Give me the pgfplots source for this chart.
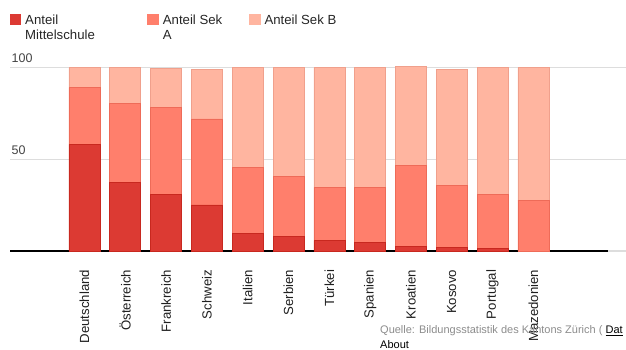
\documentclass[border=0pt]{standalone}
\usepackage{pgfplots}
\pgfplotsset{compat=1.18}
\usepackage{pgfplotstable}
\usepackage{fontspec}
\setmainfont{Liberation Sans}
\definecolor{cM}{HTML}{DC3A33}
\definecolor{cMb}{HTML}{C8281F}
\definecolor{cA}{HTML}{FF7F6C}
\definecolor{cAb}{HTML}{EE6B58}
\definecolor{cB}{HTML}{FFB5A0}
\definecolor{cBb}{HTML}{F0A08C}
\definecolor{gridc}{HTML}{DDDDDD}
\definecolor{labc}{HTML}{444444}
\pgfplotstableread{
x m a b
0 58.3 30.8 10.9
1 37.4 43.2 19.4
2 30.8 47.4 21.3
3 25.2 46.9 27.2
4 9.8 35.7 54.5
5 7.9 32.7 59.4
6 5.7 29.1 65.2
7 4.6 30.2 65.2
8 2.5 44.1 54.2
9 1.9 33.8 63.6
10 1.4 29.4 69.2
11 0 27.9 72.1
}\data
\begin{document}
\begin{tikzpicture}
\path[use as bounding box] (0,0) rectangle (626bp,350bp);
\begin{axis}[
  at={(10bp,98.8bp)}, anchor=south west, scale only axis,
  width=616bp, height=183.4bp,
  xmin=-1.825, xmax=13.27, ymin=0, ymax=100,
  clip=false,
  ybar stacked, bar width=31bp,
  axis line style={draw=none}, tick style={draw=none},
  ytick={50,100}, ymajorgrids, grid style={draw=gridc, line width=1bp},
  yticklabel style={anchor=south west, inner sep=0pt, xshift=1.5bp, yshift=4.5bp, text=labc, font=\fontsize{12.5bp}{14bp}\selectfont},
  /pgf/number format/assume math mode=true,
  xtick={0,...,11},
  xticklabels={Deutschland,Österreich,Frankreich,Schweiz,Italien,Serbien,Türkei,Spanien,Kroatien,Kosovo,Portugal,Mazedonien},
  xticklabel style={yshift=-18.5bp, rotate=90, anchor=east, inner sep=0pt, text=black!88, font=\fontsize{13.2bp}{15bp}\selectfont},
]
\addplot[fill=cM, draw=cMb, line width=0.6bp] table[x=x,y=m]{\data};
\addplot[fill=cA, draw=cAb, line width=0.6bp] table[x=x,y=a]{\data};
\addplot[fill=cB, draw=cBb, line width=0.6bp] table[x=x,y=b]{\data};
\draw[black, line width=1.5bp] (axis cs:-1.825,0) -- (axis cs:12.82,0);
\draw[gridc, line width=1.5bp] (axis cs:12.82,0) -- (axis cs:13.27,0);
\end{axis}
% legend
\fill[cM] (9.5bp,325bp) rectangle (21.3bp,336bp);
\fill[cA] (147.3bp,325bp) rectangle (159bp,336bp);
\fill[cB] (249.3bp,325bp) rectangle (261bp,336bp);
\begin{scope}[every node/.style={anchor=base west, inner sep=0pt, text=black!85, font=\fontsize{13.2bp}{15bp}\selectfont}]
\node at (25bp,325bp) {Anteil};
\node at (25bp,310.5bp) {Mittelschule};
\node at (162.7bp,325bp) {Anteil Sek};
\node at (162.7bp,310.5bp) {A};
\node at (264.3bp,325bp) {Anteil Sek B};
\end{scope}
% source
\node[anchor=base west, inner sep=0pt, font=\fontsize{11bp}{13bp}\selectfont] at (380bp,16.7bp) {\textcolor{black!45}{Quelle: Bildungsstatistik des Kantons Zürich ( }\underline{Dat}};
\node[anchor=base west, inner sep=0pt, font=\fontsize{11bp}{13bp}\selectfont] at (380bp,1.7bp) {About};
\end{tikzpicture}
\end{document}
